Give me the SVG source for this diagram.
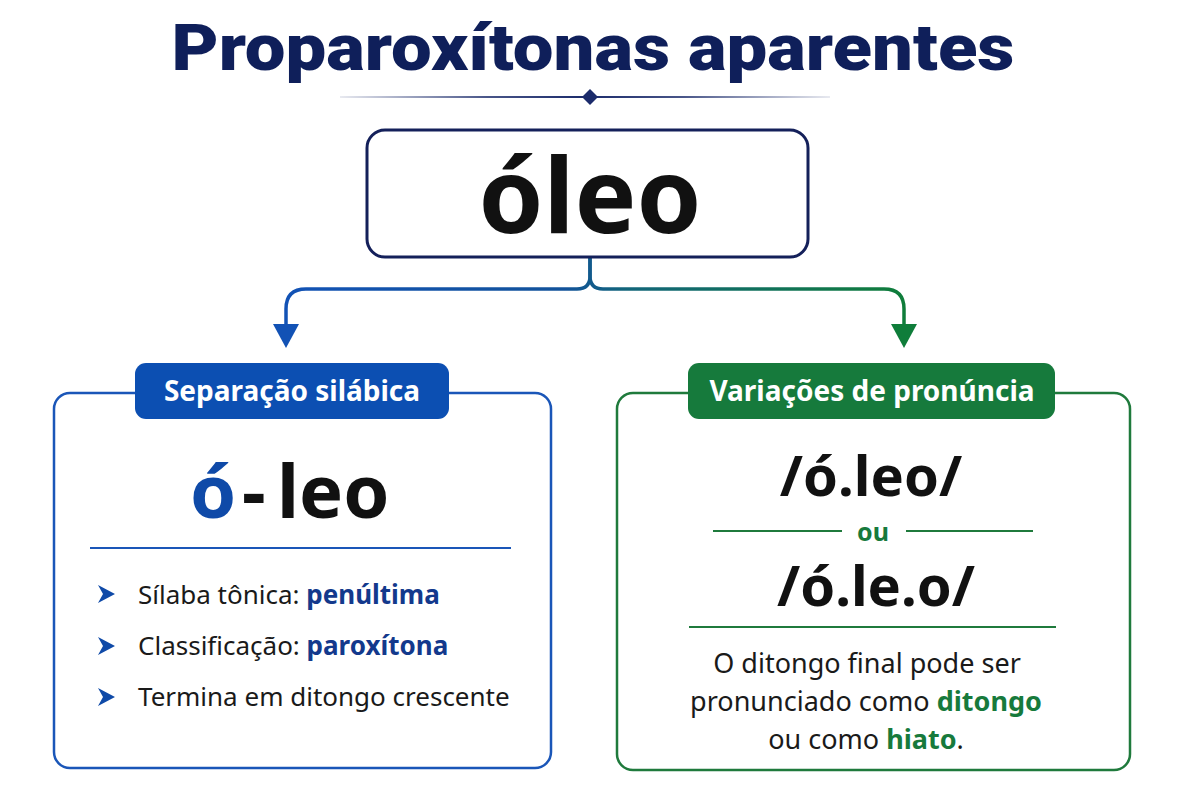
<svg xmlns="http://www.w3.org/2000/svg" width="1200" height="800" viewBox="0 0 1200 800">
<defs>
<linearGradient id="divGrad" gradientUnits="userSpaceOnUse" x1="340" y1="0" x2="830" y2="0">
<stop offset="0" stop-color="#1b2b6b" stop-opacity="0.1"/>
<stop offset="0.3" stop-color="#1b2b6b" stop-opacity="0.8"/>
<stop offset="0.5" stop-color="#1b2b6b"/>
<stop offset="0.7" stop-color="#1b2b6b" stop-opacity="0.8"/>
<stop offset="1" stop-color="#1b2b6b" stop-opacity="0.1"/>
</linearGradient>
<linearGradient id="connGrad" gradientUnits="userSpaceOnUse" x1="286" y1="0" x2="904" y2="0">
<stop offset="0" stop-color="#1252b5"/>
<stop offset="0.45" stop-color="#12529a"/>
<stop offset="0.55" stop-color="#12657a"/>
<stop offset="1" stop-color="#0f7d3a"/>
</linearGradient>
<style>
.title{font-family:Roboto,"Noto Sans",sans-serif;font-weight:900;fill:#0f1f5a}
.sans{font-family:"Noto Sans","Open Sans",sans-serif}
.b{font-weight:700}
.body{font-family:"Noto Sans","Open Sans",sans-serif;font-size:26px;fill:#1a1a1a}
.para{font-family:"Noto Sans","Open Sans",sans-serif;font-size:27px;fill:#1a1a1a}
.blueb{fill:#13398c;font-weight:700}
.greenb{fill:#177a3c;font-weight:700}
.pill{font-family:"Noto Sans","Open Sans",sans-serif;font-weight:700;font-size:28px;fill:#ffffff}
.big{font-family:"Noto Sans","Open Sans",sans-serif;font-weight:700;fill:#111111}
</style>
</defs>
<rect width="1200" height="800" fill="#ffffff"/>

<g id="title">
<text class="title" x="593" y="70" font-size="64" text-anchor="middle" textLength="843" lengthAdjust="spacingAndGlyphs">Proparoxítonas aparentes</text>
<line x1="340" y1="97" x2="830" y2="97" stroke="url(#divGrad)" stroke-width="2"/>
<polygon points="590,89 598,97 590,105 582,97" fill="#1b2b6b"/>
</g>

<g id="connectors" fill="none">
<path d="M590,258 V276 Q590,289 577,289 H306 Q286,289 286,309 V326" stroke="url(#connGrad)" stroke-width="3.5"/>
<path d="M590,258 V276 Q590,289 603,289 H884 Q904,289 904,309 V326" stroke="url(#connGrad)" stroke-width="3.5"/>
<polygon points="273,324 299,324 286,348" fill="#1252b5"/>
<polygon points="891,324 917,324 904,348" fill="#0f7d3a"/>
</g>

<g id="node-oleo">
<rect x="367" y="130" width="441" height="127" rx="18" fill="#ffffff" stroke="#14205a" stroke-width="3"/>
<text class="big" x="590" y="233" font-size="104" text-anchor="middle">óleo</text>
</g>

<g id="node-separacao">
<rect x="54" y="393" width="497" height="375" rx="16" fill="#ffffff" stroke="#1a56b8" stroke-width="2.5"/>
<rect x="135" y="363" width="314" height="56" rx="11" fill="#0c4fb2"/>
<text class="pill" x="292" y="401" text-anchor="middle">Separação silábica</text>
<text class="big" y="518" font-size="74"><tspan x="190" fill="#0f4aa8">ó</tspan><tspan x="242">-</tspan><tspan x="277">leo</tspan></text>
<line x1="90" y1="548" x2="511" y2="548" stroke="#1a56b8" stroke-width="2"/>
<g fill="#0f4aa8">
<polygon points="98,585 115,594 98,603 103,594"/>
<polygon points="98,637 115,646 98,655 103,646"/>
<polygon points="98,688 115,697 98,706 103,697"/>
</g>
<text class="body" x="138" y="604">Sílaba tônica: <tspan class="blueb">penúltima</tspan></text>
<text class="body" x="138" y="655">Classificação: <tspan class="blueb">paroxítona</tspan></text>
<text class="body" x="138" y="706">Termina em ditongo crescente</text>
</g>

<g id="node-variacoes">
<rect x="617" y="393" width="513" height="377" rx="16" fill="#ffffff" stroke="#1f7a3c" stroke-width="2.5"/>
<rect x="688" y="363" width="367" height="56" rx="11" fill="#167a3c"/>
<text class="pill" x="872" y="401" text-anchor="middle" font-size="28.5">Variações de pronúncia</text>
<text class="big" x="871" y="496" font-size="56" text-anchor="middle">/ó.leo/</text>
<line x1="713" y1="531" x2="842" y2="531" stroke="#1f7a3c" stroke-width="2"/>
<line x1="906" y1="531" x2="1033" y2="531" stroke="#1f7a3c" stroke-width="2"/>
<text class="sans b" x="873" y="541" font-size="25" fill="#177a3c" text-anchor="middle">ou</text>
<text class="big" x="876" y="606" font-size="56" text-anchor="middle">/ó.le.o/</text>
<line x1="689" y1="627" x2="1056" y2="627" stroke="#1f7a3c" stroke-width="2"/>
<text class="para" x="867" y="673" text-anchor="middle">O ditongo final pode ser</text>
<text class="para" x="866" y="711" text-anchor="middle">pronunciado como <tspan class="greenb">ditongo</tspan></text>
<text class="para" x="866" y="749" text-anchor="middle">ou como <tspan class="greenb">hiato</tspan>.</text>
</g>
</svg>
